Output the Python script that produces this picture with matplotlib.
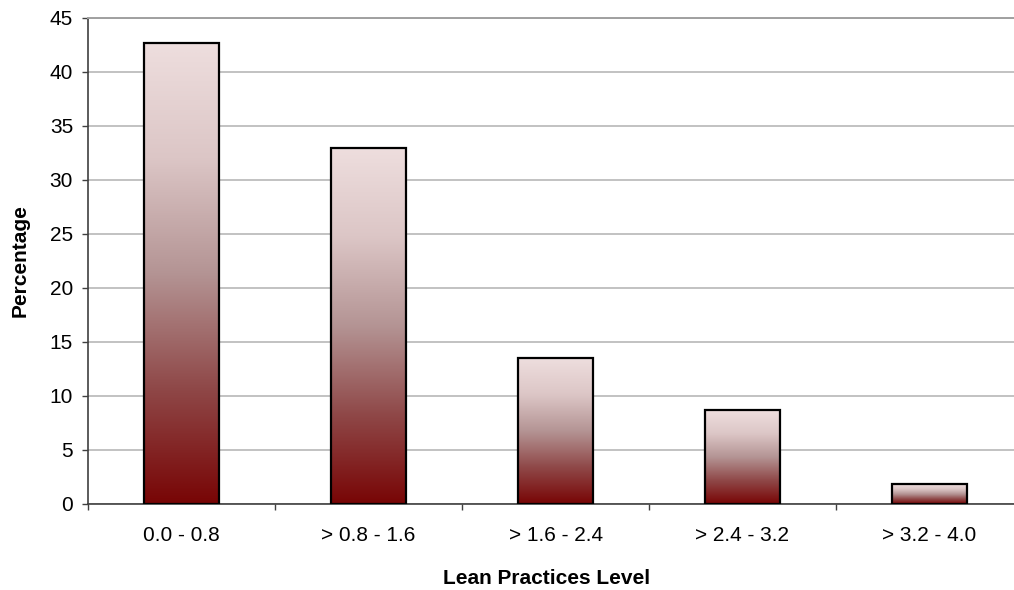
import numpy as np
import matplotlib.pyplot as plt
from matplotlib.colors import LinearSegmentedColormap

plt.rcParams["font.family"] = ["Liberation Sans", "DejaVu Sans"]

categories = ["0.0 - 0.8", "> 0.8 - 1.6", "> 1.6 - 2.4", "> 2.4 - 3.2", "> 3.2 - 4.0"]
percentages = [42.7, 33.0, 13.5, 8.7, 1.85]

bar_width = 0.40
grad_cmap = LinearSegmentedColormap.from_list(
    "bar_grad", ["#780505", "#8f4848", "#b49494", "#dcc6c6", "#eedede"])

fig = plt.figure(figsize=(10.14, 5.9), dpi=100)
# plot area runs past the right edge of the image, as in the original
ax = fig.add_axes([0.0871, 0.1458, 0.9216, 0.8237])

x = np.arange(len(categories))
gradient = np.linspace(0, 1, 256).reshape(-1, 1)
for xi, val in zip(x, percentages):
    ax.imshow(gradient, cmap=grad_cmap, origin="lower", aspect="auto",
              extent=(xi - bar_width / 2, xi + bar_width / 2, 0, val),
              zorder=2, interpolation="bicubic")
ax.bar(x, percentages, width=bar_width, fill=False, edgecolor="black",
       linewidth=1.6, zorder=3)

ax.set_xlim(-0.5, len(categories) - 0.5)
ax.set_ylim(0, 45)
ax.set_yticks(np.arange(0, 46, 5))
ax.set_xticks(x)
ax.set_xticklabels(categories)
ax.set_xticks(np.arange(-0.5, len(categories), 1.0), minor=True)
ax.tick_params(axis="x", which="major", length=0, pad=16, labelsize=15)
ax.tick_params(axis="x", which="minor", length=4, width=1, color="#404040")
ax.tick_params(axis="y", length=4, width=1, color="#404040", labelsize=15, pad=7)

ax.yaxis.grid(True, color="#b8b8b8", linewidth=1.2, zorder=0)
ax.set_axisbelow(True)
ax.spines["right"].set_visible(False)
ax.spines["top"].set_color("#a0a0a0")
ax.spines["top"].set_linewidth(1.4)
for side in ["left", "bottom"]:
    ax.spines[side].set_color("#404040")
    ax.spines[side].set_linewidth(1.2)

ax.set_xlabel("Lean Practices Level", fontsize=15, fontweight="bold")
ax.set_ylabel("Percentage", fontsize=15, fontweight="bold")
# label centred on the visible part of the plot area
ax.xaxis.set_label_coords(0.49, -0.133)
ax.yaxis.set_label_coords(-0.063, 0.5)

fig.savefig("out.png", dpi=100)
